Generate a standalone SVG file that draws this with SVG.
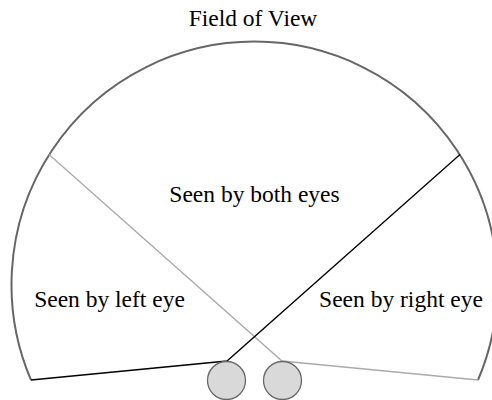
<svg xmlns="http://www.w3.org/2000/svg" width="492" height="400" viewBox="0 0 492 400">
<style>
text { font-family: "Liberation Serif", "Times New Roman", serif; font-size: 23.5px; fill: #000; text-anchor: middle; }
.arc { fill: none; stroke: #666; stroke-width: 2; }
.eye { fill: #d9d9d9; stroke: #666; stroke-width: 1.3; }
.left { fill: none; stroke: #000; stroke-width: 1.3; }
.right { fill: none; stroke: #aaa; stroke-width: 1.3; }
</style>
<rect width="492" height="400" fill="#fff"/>
<g id="title"><text x="253" y="26">Field of View</text></g>
<g id="field">
<path class="arc" d="M 31 380 A 243 243 0 1 1 478 380"/>
</g>
<g id="connectors">
<polyline class="right" points="49,154.5 282,361 478,380"/>
<polyline class="left" points="31,380 227,361 460,154.5"/>
</g>
<g id="left-eye"><circle class="eye" cx="226.5" cy="380.5" r="19"/></g>
<g id="right-eye"><circle class="eye" cx="282.5" cy="380.5" r="19"/></g>
<g id="both"><text x="254.5" y="201.5">Seen by both eyes</text></g>
<g id="left-region"><text x="109.5" y="307.3">Seen by left eye</text></g>
<g id="right-region"><text x="401" y="307.3">Seen by right eye</text></g>
</svg>
